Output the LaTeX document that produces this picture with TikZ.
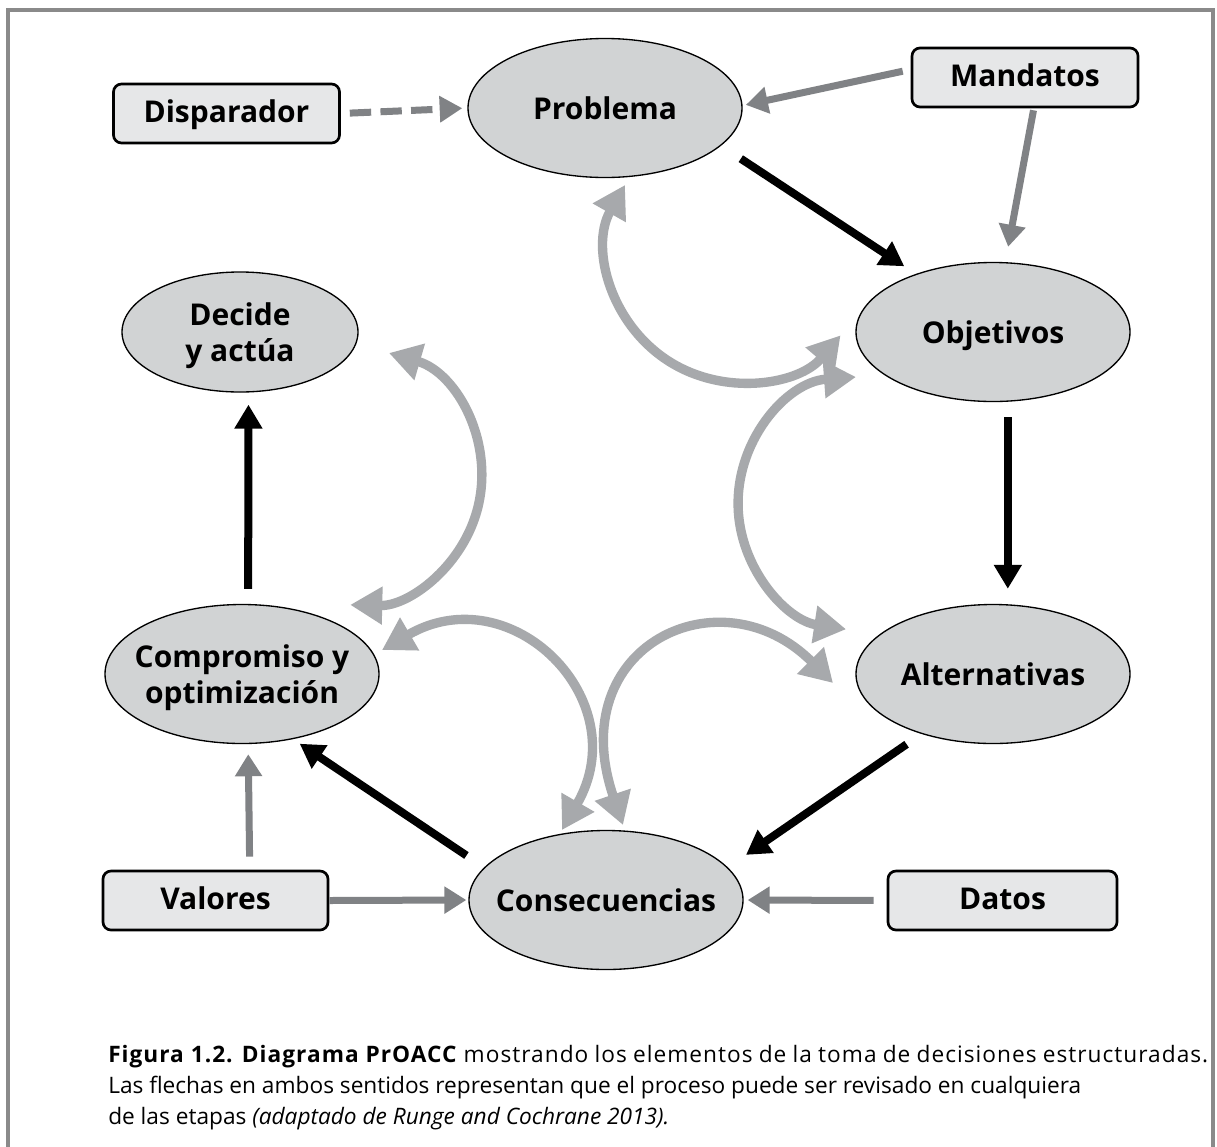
\documentclass[tikz,border=0pt]{standalone}
\usepackage{fontspec}
\setmainfont{Open Sans}
\usetikzlibrary{shapes.geometric,arrows.meta,calc}

\definecolor{ovalfill}{HTML}{D1D3D4}
\definecolor{boxfill}{HTML}{E6E7E8}
\definecolor{cycgray}{HTML}{A7A9AC}
\definecolor{ingray}{HTML}{808285}
\definecolor{framegray}{HTML}{8A8A8A}

% centred label of fixed (zero) size, so the ellipse keeps its own size
\newcommand\ovaltext[1]{\raisebox{-0.36em}[0pt][0pt]{\makebox[0pt]{\begin{tabular}{@{}c@{}}#1\end{tabular}}}}
\newcommand\nodefont{\fontsize{22.5pt}{27pt}\selectfont\bfseries}

\tikzset{
  stage/.style={ellipse, draw=black, line width=1pt, fill=ovalfill, inner sep=0pt,
    minimum width=274*0.75pt, minimum height=139*0.75pt, font=\nodefont},
  inbox/.style={rectangle, draw=black, line width=2pt, rounded corners=6pt, fill=boxfill,
    inner sep=0pt, minimum width=226*0.75pt, minimum height=59*0.75pt,
    text height=18pt, text depth=4pt, font=\nodefont},
  flow/.style={draw=black, line width=6pt, -{Triangle[length=18pt,width=20pt]}},
  feed/.style={draw=ingray, line width=5.25pt, -{Triangle[length=16.5pt,width=19.5pt]}},
  trig/.style={draw=ingray, line width=5.25pt, dash pattern=on 16pt off 7pt,
    -{Triangle[length=17pt,width=19pt]}},
  revisit/.style={draw=cycgray, line width=7pt,
    {Triangle[length=24pt,width=27pt]}-{Triangle[length=24pt,width=27pt]}},
  capt/.style={inner sep=0pt, anchor=base west, font=\fontsize{17pt}{22pt}\selectfont},
}

\begin{document}
\begin{tikzpicture}[x=0.75pt, y=-0.75pt]
  \useasboundingbox (0,0) rectangle (1217,1146);
  \fill[white] (0,0) rectangle (1217,1146);
  % outer frame
  \draw[framegray, line width=2.6pt] (8,1170) -- (8,10) -- (1213,10) -- (1213,1170);

  % stages of the cycle
  \node[stage] (prob) at (605,108) {\ovaltext{Problema}};
  \node[stage] (obj)  at (993,332) {\ovaltext{Objetivos}};
  \node[stage] (alt)  at (993,674) {\ovaltext{Alternativas}};
  \node[stage] (cons) at (606,900) {\ovaltext{Consecuencias}};
  \node[stage] (comp) at (242,674) {\ovaltext{Compromiso y\\optimización}};
  \node[stage, minimum width=236*0.75pt, minimum height=120*0.75pt] (dec) at (240,332)
    {\ovaltext{Decide\\y actúa}};

  % inputs
  \node[inbox] (disp) at (226.5,113.5) {Disparador};
  \node[inbox] (mand) at (1025,77.5) {Mandatos};
  \node[inbox, minimum width=225*0.75pt] (val) at (215.5,900.5) {Valores};
  \node[inbox, minimum width=229*0.75pt] (dat) at (1002.5,900.5) {Datos};

  % main sequence
  \draw[flow, shorten <=17.7pt, shorten >=10.4pt] (prob.-18.4) -- (obj.143.8);
  \draw[flow, shorten <=11.6pt, shorten >=11.6pt] (obj.-78.6) -- (alt.78.5);
  \draw[flow, shorten <=13.6pt, shorten >=16.5pt] (alt.-140.9) -- (cons.15.0);
  \draw[flow, shorten <=16pt, shorten >=6.1pt] (cons.165.8) -- (comp.-52.6);
  \draw[flow, shorten <=11.3pt, shorten >=9.1pt] (comp.85.0) -- (dec.-82.4);

  % inputs to the stages
  \draw[trig, shorten <=6.75pt, shorten >=3.75pt] (disp.east) -- (prob.west);
  \draw[feed, shorten <=6.1pt, shorten >=2.5pt] (mand.176.96) -- (prob.1.84);
  \draw[feed, shorten <=1.5pt, shorten >=11.7pt] (mand.-74.1) -- (obj.80.1);
  \draw[feed, shorten <=9.75pt, shorten >=7.6pt] (val.42.2) -- (comp.-85.0);
  \draw[feed, shorten >=1.5pt] (val.east) -- (cons.west);
  \draw[feed, shorten <=9.75pt, shorten >=3pt] (dat.west) -- (cons.east);

  % two-way revision arrows
  \coordinate (a1) at ($(prob.center)+(20,77)$);
  \draw[revisit] (a1) arc[start angle=209.5, end angle=40.3, radius=132];

  \coordinate (b1) at ($(obj.center)+(-137,45)$);
  \draw[revisit] (b1) arc[start angle=265.9, end angle=98.6, radius=127];

  \coordinate (c1) at ($(dec.center)+(149,21)$);
  \draw[revisit] (c1) arc[start angle=-73.8, end angle=91.3, radius=128.5];

  \coordinate (d1) at ($(comp.center)+(140,-24)$);
  \coordinate (d2) at ($(cons.center)+(-44,-70)$);
  \draw[revisit] (d1) .. controls ($(d1)+(129,-75)$) and ($(d2)+(75,-130)$) .. (d2);

  \coordinate (e1) at ($(cons.center)+(17,-75)$);
  \coordinate (e2) at ($(alt.center)+(-160,9)$);
  \draw[revisit] (e1) .. controls ($(e1)+(-61,-180)$) and ($(e2)+(-112,-112)$) .. (e2);

  % caption (first line justified to the full measure)
  \node[capt] (cap1) at (108,1062) {\makebox[825pt][s]{\addfontfeatures{LetterSpace=4.5}\mbox{\textbf{Figura 1.2. Diagrama PrOACC}} mostrando los elementos de la toma de decisiones estructuradas.}};
  \node[capt] (cap2) at (108,1093) {Las flechas en ambos sentidos representan que el proceso puede ser revisado en cualquiera};
  \node[capt] (cap3) at (108,1124) {de las etapas \textit{(adaptado de Runge and Cochrane 2013).}};
\end{tikzpicture}
\end{document}
